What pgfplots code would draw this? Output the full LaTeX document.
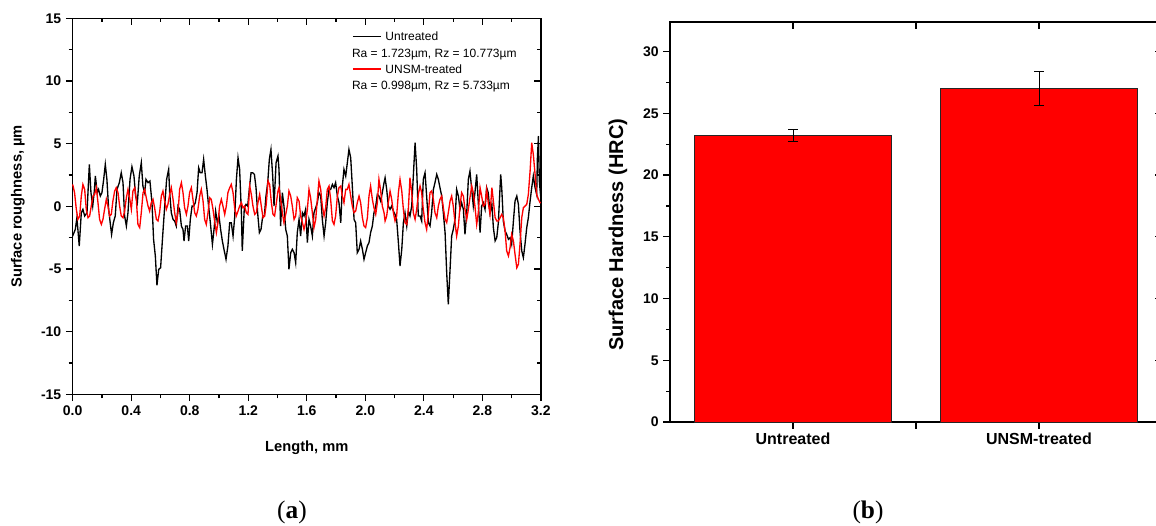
\documentclass[border=0pt]{standalone}
\usepackage{fontspec}
\setmainfont{Liberation Sans}
\newfontfamily\capfont{Liberation Serif}
\usepackage{pgfplots}
\pgfplotsset{compat=1.18}

\pgfplotstableread{
x y
0.000 -2.37
0.018 -1.84
0.029 -0.91
0.045 -3.17
0.059 -0.51
0.070 -0.24
0.082 -0.77
0.098 -0.51
0.114 3.35
0.125 1.09
0.137 0.02
0.148 1.22
0.155 2.42
0.168 1.09
0.177 1.35
0.189 0.82
0.200 1.09
0.212 2.15
0.223 3.35
0.234 2.15
0.246 -0.24
0.259 -1.57
0.266 -2.24
0.278 -1.31
0.291 -0.77
0.303 1.35
0.319 1.89
0.332 2.68
0.344 1.89
0.355 -0.77
0.367 -1.57
0.378 -0.51
0.392 2.15
0.405 3.16
0.419 2.42
0.430 0.82
0.442 0.29
0.455 2.42
0.469 3.48
0.480 1.62
0.492 1.09
0.501 2.15
0.515 1.89
0.528 2.02
0.542 0.29
0.553 -2.64
0.565 -3.97
0.576 -6.31
0.588 -5.03
0.601 -4.90
0.615 -2.37
0.629 0.02
0.642 2.15
0.656 2.95
0.663 1.09
0.674 -0.51
0.686 -1.04
0.697 -1.17
0.708 -1.57
0.720 0.02
0.731 -0.24
0.743 -1.57
0.754 -1.84
0.761 -2.77
0.772 -1.57
0.784 -1.57
0.793 -2.77
0.804 -1.04
0.816 0.02
0.827 0.02
0.838 0.29
0.850 1.09
0.861 3.08
0.872 2.68
0.884 2.68
0.895 3.75
0.907 2.42
0.918 1.35
0.929 0.02
0.941 -1.31
0.955 -3.04
0.966 -1.84
0.977 -0.38
0.989 -1.31
1.000 -0.77
1.011 -1.84
1.023 -2.77
1.034 -3.43
1.048 -4.23
1.061 -3.16
1.073 -1.31
1.084 -1.31
1.096 -2.37
1.107 -0.91
1.119 2.15
1.130 3.88
1.141 2.95
1.153 -0.51
1.159 -3.56
1.173 -0.11
1.185 0.16
1.196 0.02
1.207 1.35
1.219 2.68
1.230 2.68
1.242 2.55
1.253 1.49
1.264 -0.51
1.276 -2.10
1.287 -1.84
1.299 -0.77
1.310 -0.77
1.321 0.82
1.333 1.89
1.344 3.75
1.355 4.54
1.367 2.42
1.376 0.02
1.390 3.48
1.403 4.02
1.410 2.95
1.421 -1.57
1.433 1.09
1.444 0.02
1.456 -1.84
1.467 -2.37
1.478 -5.03
1.490 -3.70
1.501 -3.43
1.513 -3.70
1.524 -4.50
1.535 -2.10
1.547 -1.04
1.558 -2.37
1.570 -0.51
1.581 -0.77
1.592 -0.24
1.604 -2.90
1.615 -1.04
1.626 -1.57
1.638 -2.37
1.649 -0.51
1.661 -0.11
1.672 0.29
1.683 1.09
1.695 0.82
1.706 -1.04
1.718 -2.37
1.729 -1.31
1.740 0.29
1.752 1.35
1.763 1.35
1.775 1.75
1.786 1.49
1.797 1.89
1.809 0.82
1.820 0.29
1.832 -1.31
1.843 1.62
1.854 2.95
1.866 2.42
1.877 3.48
1.888 4.54
1.900 3.88
1.911 1.62
1.923 -1.04
1.934 -1.31
1.945 -3.70
1.957 -3.43
1.968 -2.77
1.980 -3.43
1.991 -4.23
2.002 -3.70
2.014 -3.16
2.025 -2.90
2.036 -2.10
2.048 -1.57
2.059 -0.51
2.071 0.02
2.082 0.95
2.093 0.82
2.105 0.42
2.116 1.09
2.128 1.89
2.135 2.28
2.146 1.35
2.157 0.02
2.169 -0.24
2.180 0.02
2.192 -0.38
2.203 -0.64
2.214 -1.04
2.226 -2.90
2.237 -4.76
2.249 -3.43
2.260 -1.31
2.271 -0.51
2.283 -1.57
2.294 -0.38
2.305 -0.77
2.317 0.02
2.328 2.42
2.340 5.08
2.351 2.95
2.362 -0.77
2.374 -0.77
2.385 -1.17
2.396 2.15
2.408 2.68
2.419 0.82
2.431 -1.31
2.442 -1.57
2.453 -0.51
2.465 1.35
2.476 1.89
2.488 2.55
2.499 2.15
2.510 1.49
2.522 0.82
2.533 -0.51
2.545 -2.10
2.556 -5.29
2.567 -7.82
2.579 -5.03
2.590 -2.37
2.601 -1.84
2.613 -1.04
2.624 1.35
2.636 0.82
2.647 -0.24
2.658 0.29
2.670 -0.24
2.681 -2.24
2.693 -0.51
2.704 2.15
2.715 2.81
2.727 1.35
2.738 0.02
2.749 1.09
2.761 2.55
2.772 0.29
2.784 -2.10
2.795 0.02
2.806 0.29
2.818 -0.24
2.829 1.49
2.840 1.09
2.852 -0.51
2.865 0.16
2.875 -1.70
2.887 -2.76
2.898 -2.50
2.909 -1.30
2.925 2.55
2.932 1.49
2.943 -1.17
2.955 -1.97
2.966 -2.23
2.978 -2.63
2.989 -2.50
3.000 -3.03
3.012 -1.17
3.023 0.42
3.035 0.82
3.046 0.16
3.057 -1.97
3.069 -3.56
3.080 -4.09
3.091 -3.03
3.103 -1.70
3.114 -0.91
3.126 0.42
3.137 1.49
3.148 2.42
3.160 1.49
3.171 0.95
3.176 3.88
3.183 5.61
3.189 2.02
3.199 0.69
}\untreated

\pgfplotstableread{
x y
0.000 1.75
0.013 1.09
0.025 -0.24
0.036 -1.04
0.048 -0.77
0.059 0.82
0.070 1.75
0.082 1.35
0.093 -0.24
0.105 -0.91
0.116 -0.77
0.127 0.02
0.139 0.82
0.150 0.95
0.162 1.49
0.173 0.29
0.184 -1.04
0.196 -1.44
0.207 -1.04
0.218 -0.24
0.230 0.56
0.241 0.02
0.253 -0.77
0.264 -0.64
0.275 0.42
0.287 1.22
0.298 1.49
0.310 1.09
0.321 0.02
0.332 -0.77
0.344 -0.91
0.355 -0.38
0.367 0.69
0.378 1.35
0.389 0.69
0.401 -0.24
0.412 1.22
0.424 1.49
0.435 0.56
0.446 -1.44
0.458 -1.70
0.469 -0.51
0.481 1.09
0.492 1.35
0.503 0.69
0.515 0.02
0.526 -0.38
0.537 0.29
0.549 0.56
0.560 -0.11
0.572 -1.04
0.583 -1.17
0.594 -0.51
0.606 0.82
0.617 1.22
0.629 0.42
0.640 -0.24
0.651 0.16
0.663 0.95
0.674 1.49
0.686 0.56
0.697 -0.51
0.708 -1.30
0.720 -0.51
0.731 1.35
0.743 1.89
0.754 1.09
0.765 -0.11
0.777 -0.64
0.788 0.02
0.799 1.09
0.811 1.49
0.822 0.56
0.834 -0.51
0.845 -0.77
0.856 -0.24
0.868 0.82
0.879 1.35
0.891 0.42
0.902 -1.04
0.913 -1.44
0.925 -0.51
0.936 0.69
0.947 0.56
0.959 -0.24
0.970 -1.17
0.982 -2.10
0.993 -1.30
1.004 0.02
1.016 0.56
1.027 0.02
1.039 -0.64
1.050 0.02
1.061 1.09
1.073 1.49
1.084 1.75
1.096 1.09
1.107 -0.11
1.118 -0.77
1.130 -0.38
1.141 0.02
1.153 0.29
1.164 -0.11
1.175 0.02
1.187 -0.51
1.198 -0.64
1.210 1.62
1.221 0.95
1.232 0.02
1.244 -0.64
1.255 -0.51
1.266 0.29
1.278 0.95
1.289 0.02
1.301 -0.91
1.312 -0.77
1.323 0.16
1.335 2.02
1.346 1.75
1.358 0.29
1.369 -0.64
1.380 -0.77
1.392 0.29
1.403 1.22
1.410 1.49
1.421 0.56
1.433 -0.51
1.444 -1.30
1.456 -0.64
1.467 0.02
1.478 1.22
1.490 0.82
1.501 0.02
1.513 -1.04
1.524 -0.77
1.535 0.69
1.547 0.42
1.558 -0.77
1.570 -1.30
1.581 -1.84
1.592 -1.30
1.604 -0.24
1.615 1.35
1.626 0.69
1.638 -0.51
1.649 -1.70
1.661 -1.04
1.672 0.56
1.683 2.02
1.695 1.35
1.706 0.02
1.718 -0.77
1.729 -0.11
1.740 1.35
1.752 1.62
1.763 0.56
1.775 -1.17
1.786 -1.44
1.797 -0.77
1.809 0.82
1.820 1.49
1.832 1.62
1.843 0.82
1.854 0.29
1.866 1.35
1.877 1.35
1.888 1.75
1.900 0.82
1.911 0.02
1.923 -0.51
1.934 -0.38
1.945 0.29
1.957 0.82
1.968 0.29
1.980 -0.91
1.991 -1.57
2.002 -1.70
2.014 -0.91
2.025 0.82
2.036 1.62
2.048 0.56
2.059 -0.11
2.071 -0.64
2.082 0.29
2.093 2.15
2.105 1.22
2.116 0.02
2.128 -0.51
2.135 -1.17
2.146 -0.77
2.157 0.29
2.169 1.22
2.180 0.56
2.192 -0.51
2.203 -1.17
2.214 -0.77
2.226 1.09
2.237 2.15
2.249 1.22
2.260 -0.24
2.271 -1.30
2.283 -1.44
2.294 -0.24
2.305 2.28
2.317 1.09
2.328 -0.51
2.340 -1.04
2.351 -0.24
2.362 0.95
2.374 1.62
2.385 1.09
2.396 -0.24
2.408 -1.30
2.419 -1.84
2.431 -0.51
2.442 1.09
2.453 1.22
2.465 0.56
2.476 -0.51
2.488 -0.91
2.499 0.02
2.510 0.56
2.522 0.82
2.533 -0.11
2.545 -1.04
2.556 -1.30
2.567 -0.51
2.579 0.42
2.590 0.82
2.601 0.02
2.613 -1.30
2.624 -2.37
2.636 -1.57
2.647 0.02
2.658 1.09
2.670 0.82
2.681 -0.24
2.693 -1.04
2.704 -0.24
2.715 0.69
2.727 1.62
2.738 1.09
2.749 0.02
2.761 -1.44
2.772 -0.51
2.784 1.49
2.795 0.82
2.806 0.02
2.818 0.16
2.829 1.35
2.840 0.29
2.852 -0.64
2.865 1.49
2.875 0.42
2.887 -0.90
2.898 -1.17
2.909 -1.17
2.921 -0.90
2.932 -0.64
2.943 -0.90
2.955 -1.97
2.966 -3.56
2.978 -3.96
2.989 -3.30
3.000 -2.24
3.012 -2.76
3.023 -3.83
3.035 -4.90
3.046 -4.63
3.057 -3.03
3.069 -0.90
3.080 -0.11
3.091 0.02
3.103 0.16
3.114 0.95
3.126 2.82
3.137 5.08
3.148 4.14
3.160 2.55
3.171 0.95
3.183 0.56
3.194 0.29
3.199 0.29
}\treated

\pgfplotsset{
  base/.style={
    scale only axis,
    axis line style={line width=1.1pt},
    every tick/.style={black, line width=0.9pt},
    major tick length=5pt, minor tick length=3pt,
    tick label style={font=\bfseries\fontsize{10.5}{12}\selectfont},
    /pgf/number format/assume math mode=true,
    clip=false,
  },
  mirror/.style={
    axis line style={draw=none},
    tick align=inside, xtick pos=right, ytick pos=right,
    xticklabels={}, yticklabels={},
  },
}
\newcommand{\legline}[1]{\tikz[baseline={(0pt,-3.2pt)}]\draw[#1, line width=1.1pt] (0pt,0pt) -- (21pt,0pt);\hspace{3pt}}

\begin{document}
\begin{tikzpicture}
\useasboundingbox (0pt,0pt) rectangle (867pt,393.75pt);

% ---------- (a) surface roughness ----------
\begin{axis}[base, at={(54.5pt,98pt)}, anchor=south west,
  width=351.2pt, height=282pt,
  xmin=0, xmax=3.2, ymin=-15, ymax=15,
  tick align=outside, xtick pos=left, ytick pos=left,
  xtick={0,0.4,0.8,1.2,1.6,2.0,2.4,2.8,3.2},
  minor xtick={0.2,0.6,1.0,1.4,1.8,2.2,2.6,3.0},
  ytick={-15,-10,-5,0,5,10,15},
  minor ytick={-12.5,-7.5,-2.5,2.5,7.5,12.5},
  xticklabel style={/pgf/number format/.cd, fixed, fixed zerofill, precision=1},
  xlabel={Length, mm}, ylabel={Surface roughness, µm},
  every axis x label/.style={at={(axis description cs:0.5,-0.143)}, anchor=center,
    font=\bfseries\fontsize{11}{13}\selectfont},
  every axis y label/.style={at={(axis description cs:-0.117,0.5)}, rotate=90, anchor=center,
    font=\bfseries\fontsize{11}{13}\selectfont},
]
\addplot[black, line width=1pt] table[x=x, y=y] {\untreated};
\addplot[red, line width=1pt] table[x=x, y=y] {\treated};
\node[anchor=north west, inner sep=0pt, align=left, font=\fontsize{9}{12.2}\selectfont]
  at (rel axis cs:0.596,0.964)
  {\legline{black}Untreated\\
   Ra = 1.723µm, Rz = 10.773µm\\
   \legline{red}UNSM-treated\\
   Ra = 0.998µm, Rz = 5.733µm};
\end{axis}
\begin{axis}[base, mirror, at={(54.5pt,98pt)}, anchor=south west,
  width=351.2pt, height=282pt,
  xmin=0, xmax=3.2, ymin=-15, ymax=15,
  xtick={0,0.4,0.8,1.2,1.6,2.0,2.4,2.8,3.2},
  minor xtick={0.2,0.6,1.0,1.4,1.8,2.2,2.6,3.0},
  ytick={-15,-10,-5,0,5,10,15},
  minor ytick={-12.5,-7.5,-2.5,2.5,7.5,12.5},
]
\end{axis}

% ---------- (b) surface hardness ----------
\begin{axis}[base, at={(502.5pt,77.25pt)}, anchor=south west,
  width=369pt, height=300pt,
  xmin=0.5, xmax=2.5, ymin=0, ymax=32.4,
  tick align=outside, xtick pos=left, ytick pos=left,
  ybar, bar width=0.8,
  xtick={1,1.5,2}, xticklabels={Untreated,,UNSM-treated},
  xticklabel style={font=\bfseries\fontsize{12}{14}\selectfont},
  ytick={0,5,10,15,20,25,30},
  minor ytick={2.5,7.5,12.5,17.5,22.5,27.5},
  ylabel={Surface Hardness (HRC)},
  every axis y label/.style={at={(axis description cs:-0.106,0.468)}, rotate=90, anchor=center,
    font=\bfseries\fontsize{15}{17}\selectfont},
]
\addplot[fill=red, draw=black!85, line width=0.6pt,
  error bars/.cd, y dir=both, y explicit,
  error bar style={black, line width=0.75pt},
  error mark options={rotate=90, mark size=3.75pt, black, line width=0.75pt}]
  coordinates {(1,23.2) +- (0,0.47) (2,27.0) +- (0,1.4)};
\end{axis}
\begin{axis}[base, mirror, at={(502.5pt,77.25pt)}, anchor=south west,
  width=369pt, height=300pt,
  xmin=0.5, xmax=2.5, ymin=0, ymax=32.4,
  xtick={1,1.5,2}, ytick={5,10,15,20,25,30},
]
\end{axis}

\node[font=\capfont\fontsize{19}{22}\selectfont] at (219pt,9.75pt) {(\textbf{a})};
\node[font=\capfont\fontsize{19}{22}\selectfont] at (651pt,9.75pt) {(\textbf{b})};
\end{tikzpicture}
\end{document}
